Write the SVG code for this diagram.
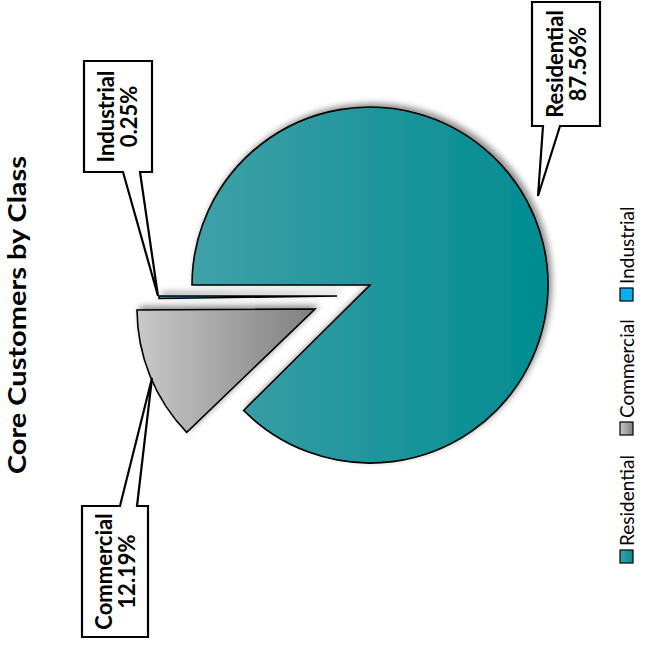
<svg xmlns="http://www.w3.org/2000/svg" width="663" height="649" viewBox="0 0 663 649">
<style>
.slice{stroke:#000;stroke-width:1.6;stroke-linejoin:miter}
.box{fill:#fff;stroke:#000;stroke-width:2.2;stroke-linejoin:miter}
.lbl{font-family:Lato,"Liberation Sans",sans-serif;font-weight:bold;font-size:22px;fill:#000;text-anchor:middle}
.title{font-family:Lato,"Liberation Sans",sans-serif;font-weight:bold;font-size:24px;fill:#000;text-anchor:middle}
.leg{font-family:Lato,"Liberation Sans",sans-serif;font-size:19px;fill:#000}
.sw{stroke:#000;stroke-width:1.2}
</style>
<defs>
<linearGradient id="gRes" x1="0" y1="0" x2="1" y2="0">
<stop offset="0" stop-color="#40a0a8"/>
<stop offset="1" stop-color="#008c91"/>
</linearGradient>
<linearGradient id="gCom" x1="0" y1="0" x2="1" y2="0">
<stop offset="0" stop-color="#c9c9c9"/>
<stop offset="1" stop-color="#7f7f7f"/>
</linearGradient>
<filter id="sh" x="-20%" y="-20%" width="140%" height="140%">
<feDropShadow dx="3" dy="-3" stdDeviation="3" flood-color="#000" flood-opacity="0.45"/>
</filter>
</defs>
<rect width="663" height="649" fill="#fff"/>
<text class="title" transform="translate(26,315) rotate(-90)" textLength="318" lengthAdjust="spacingAndGlyphs">Core Customers by Class</text>
<g id="slices" filter="url(#sh)">
<g id="residential">
<path class="slice" fill="url(#gRes)" d="M370,285 L192,285 A178,178 0 1 1 243.6,410.4 Z"/>
</g>
<g id="commercial">
<path class="slice" fill="url(#gCom)" d="M315,309 L137,310 A178,178 0 0 0 186.7,432.4 Z"/>
</g>
<g id="industrial">
<path class="slice" fill="#00b0f0" d="M337,296 L159,296 A178,178 0 0 0 159.1,298.5 Z"/>
</g>
</g>
<g id="connectors">
<path class="box" d="M532,2 H600 V126 H560 L538,196 L543,126 H532 Z"/>
<path class="box" d="M84,61 H152 V172 H140 L158,296 L123,172 H84 Z"/>
<path class="box" d="M82,506 H120 L152,378 L137,506 H148 V637 H82 Z"/>
</g>
<g id="label-residential">
<text class="lbl" transform="translate(563,64) rotate(-90)">Residential</text>
<text class="lbl" transform="translate(586,64) rotate(-90)">87.56%</text>
</g>
<g id="label-industrial">
<text class="lbl" transform="translate(114,116.5) rotate(-90)">Industrial</text>
<text class="lbl" transform="translate(137,116.5) rotate(-90)">0.25%</text>
</g>
<g id="label-commercial">
<text class="lbl" transform="translate(112,571.5) rotate(-90)">Commercial</text>
<text class="lbl" transform="translate(135,571.5) rotate(-90)">12.19%</text>
</g>
<g id="legend">
<rect class="sw" x="620" y="550" width="13" height="13" fill="url(#gRes)"/>
<text class="leg" transform="translate(634,546) rotate(-90)">Residential</text>
<rect class="sw" x="620" y="422" width="13" height="13" fill="url(#gCom)"/>
<text class="leg" transform="translate(634,418) rotate(-90)">Commercial</text>
<rect class="sw" x="620" y="288" width="13" height="13" fill="#00b0f0"/>
<text class="leg" transform="translate(634,284) rotate(-90)">Industrial</text>
</g>
</svg>
